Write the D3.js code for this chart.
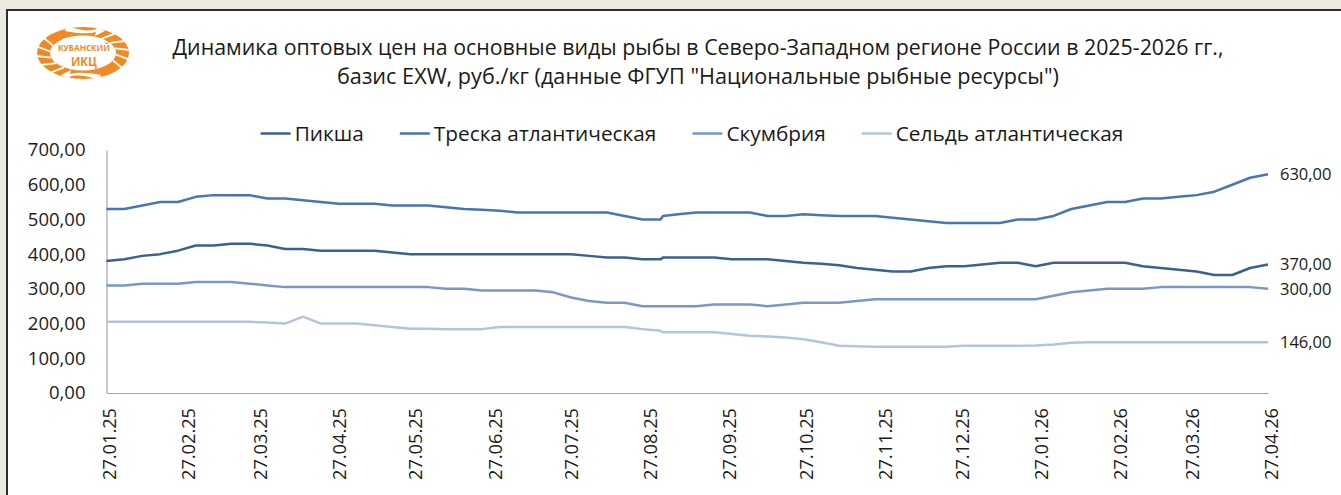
<!DOCTYPE html>
<html>
<head>
<meta charset="utf-8">
<script src="https://cdn.jsdelivr.net/npm/d3@7"></script>
<style>
  body { margin: 0; background: #ece9df; }
  text { font-family: "Open Sans", "Noto Sans", sans-serif; fill: #1a1a1a; }
</style>
</head>
<body>
<div id="chart"></div>
<script>
// Chart data
const dates = [
  "27.01.25","03.02.25","10.02.25","17.02.25","24.02.25","03.03.25","10.03.25","17.03.25","24.03.25","31.03.25",
  "07.04.25","14.04.25","21.04.25","28.04.25","05.05.25","12.05.25","19.05.25","26.05.25","02.06.25","09.06.25",
  "16.06.25","23.06.25","30.06.25","07.07.25","14.07.25","21.07.25","28.07.25","04.08.25","11.08.25","18.08.25",
  "25.08.25","01.09.25","02.09.25","08.09.25","15.09.25","22.09.25","29.09.25","06.10.25","13.10.25","20.10.25",
  "27.10.25","03.11.25","10.11.25","17.11.25","24.11.25","01.12.25","08.12.25","15.12.25","22.12.25","29.12.25",
  "05.01.26","12.01.26","19.01.26","26.01.26","02.02.26","09.02.26","16.02.26","23.02.26","02.03.26","09.03.26",
  "16.03.26","23.03.26","30.03.26","06.04.26","13.04.26","20.04.26","27.04.26"
];

const seriesNames = ["Пикша", "Треска атлантическая", "Скумбрия", "Сельдь атлантическая"];

const pikshaValues = [
  380,385,395,400,410,425,425,430,430,425,
  415,415,410,410,410,410,405,400,400,400,
  400,400,400,400,400,400,400,395,390,390,
  385,385,390,390,390,390,385,385,385,380,
  375,372,368,360,355,350,350,360,365,365,
  370,375,375,365,375,375,375,375,375,365,
  360,355,350,340,340,360,370
];
const treskaValues = [
  530,530,540,550,550,565,570,570,570,560,
  560,555,550,545,545,545,540,540,540,535,
  530,528,525,520,520,520,520,520,520,510,
  500,500,510,515,520,520,520,520,510,510,
  515,512,510,510,510,505,500,495,490,490,
  490,490,500,500,510,530,540,550,550,560,
  560,565,570,580,600,620,630
];
const skumbriyaValues = [
  310,310,315,315,315,320,320,320,315,310,
  305,305,305,305,305,305,305,305,305,300,
  300,295,295,295,295,290,275,265,260,260,
  250,250,250,250,250,255,255,255,250,255,
  260,260,260,265,270,270,270,270,270,270,
  270,270,270,270,280,290,295,300,300,300,
  305,305,305,305,305,305,300
];
const seldValues = [
  205,205,205,205,205,205,205,205,205,203,
  200,220,200,200,200,195,190,185,185,184,
  184,184,190,190,190,190,190,190,190,190,
  184,179,175,175,175,175,170,165,163,160,
  155,146,136,135,133,133,133,133,133,136,
  136,136,136,137,140,145,146,146,146,146,
  146,146,146,146,146,146,146
];

const xTickLabels = ["27.01.25","27.02.25","27.03.25","27.04.25","27.05.25","27.06.25","27.07.25","27.08.25",
  "27.09.25","27.10.25","27.11.25","27.12.25","27.01.26","27.02.26","27.03.26","27.04.26"];
const yTicks = [0, 100, 200, 300, 400, 500, 600, 700];

const titleLines = [
  "Динамика оптовых цен на основные виды рыбы в Северо-Западном регионе России в 2025-2026 гг.,",
  "базис EXW, руб./кг (данные ФГУП \"Национальные рыбные ресурсы\")"
];

// Sizes
const width = 1341;
const height = 495;
const margin = { top: 150, right: 73, bottom: 102, left: 106.5 };
const colors = ["#3a6194", "#4676b4", "#7898cc", "#b2c4e0"];
const logoColor = "#f08a24";

const parseDate = d3.timeParse("%d.%m.%y");
const fmtDate = d3.timeFormat("%d.%m.%y");
const fmtNum = d => d3.format(".2f")(d).replace(".", ",");

const series = [pikshaValues, treskaValues, skumbriyaValues, seldValues].map((vals, i) => ({
  name: seriesNames[i],
  color: colors[i],
  points: vals.map((v, j) => ({ date: parseDate(dates[j]), value: v }))
}));

const svg = d3.select("#chart")
  .append("svg")
  .attr("width", width)
  .attr("height", height);

// beige page and white chart area with dark frame
svg.append("rect")
  .attr("width", width).attr("height", height)
  .attr("fill", "#ece9df");
svg.append("rect")
  .attr("x", 7).attr("y", 10)
  .attr("width", width + 20).attr("height", height + 20)
  .attr("fill", "#fff")
  .attr("stroke", "#2e2e2e")
  .attr("stroke-width", 2);

// Scales
const x = d3.scaleTime()
  .domain([parseDate(dates[0]), parseDate(dates[dates.length - 1])])
  .range([margin.left, width - margin.right]);

const y = d3.scaleLinear()
  .domain([0, 700])
  .range([height - margin.bottom, margin.top]);

// Y axis
const yAxis = svg.append("g")
  .attr("transform", `translate(${margin.left}, 0)`)
  .call(d3.axisLeft(y).tickValues(yTicks).tickSize(0).tickPadding(21).tickFormat(fmtNum));
yAxis.select(".domain").attr("stroke", "#a6a6a6").attr("stroke-width", 1.2);
yAxis.selectAll("text")
  .style("font-family", "'Open Sans', sans-serif")
  .style("font-size", "18.5px")
  .attr("fill", "#1a1a1a");

// X axis
const xAxis = svg.append("g")
  .attr("transform", `translate(0, ${height - margin.bottom})`)
  .call(d3.axisBottom(x).tickValues(xTickLabels.map(parseDate)).tickSize(0).tickFormat(fmtDate));
xAxis.select(".domain").attr("stroke", "#a6a6a6").attr("stroke-width", 1.2);
xAxis.selectAll("text")
  .attr("transform", "rotate(-90)")
  .attr("x", -15)
  .attr("y", 2.5)
  .attr("dy", "0.35em")
  .attr("text-anchor", "end")
  .style("font-family", "'Open Sans', sans-serif")
  .style("font-size", "19px")
  .attr("fill", "#1a1a1a")
  .attr("textLength", 72)
  .attr("lengthAdjust", "spacingAndGlyphs");

// Lines
const line = d3.line()
  .x(d => x(d.date))
  .y(d => y(d.value));

svg.selectAll(".series")
  .data(series)
  .enter()
  .append("path")
  .attr("class", "series")
  .attr("fill", "none")
  .attr("stroke", d => d.color)
  .attr("stroke-width", 2.5)
  .attr("stroke-linejoin", "round")
  .attr("d", d => line(d.points));

// Labels at the last point
svg.selectAll(".endLabel")
  .data(series)
  .enter()
  .append("text")
  .attr("class", "endLabel")
  .attr("x", d => x(d.points[d.points.length - 1].date) + 12)
  .attr("y", d => y(d.points[d.points.length - 1].value))
  .attr("dy", "0.35em")
  .style("font-size", "16.5px")
  .text(d => fmtNum(d.points[d.points.length - 1].value));

// Title
svg.selectAll(".title")
  .data(titleLines)
  .enter()
  .append("text")
  .attr("class", "title")
  .attr("x", 698)
  .attr("y", (d, i) => 55 + i * 28.5)
  .attr("text-anchor", "middle")
  .style("font-size", "22px")
  .attr("textLength", (d, i) => i === 0 ? 1051 : 722)
  .attr("lengthAdjust", "spacingAndGlyphs")
  .text(d => d);

// Legend
const legend = svg.append("g").attr("class", "legend");
let lx = 0;
series.forEach(s => {
  const g = legend.append("g").attr("transform", `translate(${lx}, 0)`);
  g.append("line")
    .attr("x1", 0).attr("x2", 30)
    .attr("y1", 0).attr("y2", 0)
    .attr("stroke", s.color)
    .attr("stroke-width", 2.5);
  const t = g.append("text")
    .attr("x", 34)
    .attr("y", 0)
    .attr("dy", "0.35em")
    .style("font-size", "20.8px")
    .text(s.name);
  lx += 34 + t.node().getComputedTextLength() + 36;
});
lx -= 36;
legend.attr("transform", `translate(${692 - lx / 2}, 133.5)`);

// Logo (orange ellipse, Кубанский ИКЦ)
const logo = svg.append("g").attr("transform", "translate(83, 53)");
logo.append("ellipse").attr("rx", 46).attr("ry", 26).attr("fill", logoColor);
logo.append("ellipse").attr("rx", 33).attr("ry", 17.5).attr("fill", "#fff");
[-55, -35, -15, 5, 25, 125, 145, 165, 185, 205].forEach(a => {
  const r = a * Math.PI / 180;
  logo.append("line")
    .attr("x1", 33 * Math.cos(r)).attr("y1", 17.5 * Math.sin(r))
    .attr("x2", 47 * Math.cos(r + 0.15)).attr("y2", 27 * Math.sin(r + 0.15))
    .attr("stroke", "#fff").attr("stroke-width", 1.8);
});
logo.append("path")
  .attr("d", "M-16,-27 Q4,-20 14,-24 L10,-28 L22,-22 L12,-17 L13,-21 Q2,-18 -18,-22 Z")
  .attr("fill", "#fff");
logo.append("path")
  .attr("d", "M16,27 Q-4,20 -14,24 L-10,28 L-22,22 L-12,17 L-13,21 Q-2,18 18,22 Z")
  .attr("fill", "#fff");
logo.append("text")
  .attr("x", 1)
  .attr("y", -2.5)
  .attr("text-anchor", "middle")
  .style("font-size", "9px")
  .style("font-weight", "bold")
  .style("fill", logoColor)
  .attr("textLength", 52)
  .attr("lengthAdjust", "spacingAndGlyphs")
  .text("КУБАНСКИЙ");
logo.append("text")
  .attr("x", 1)
  .attr("y", 13)
  .attr("text-anchor", "middle")
  .style("font-size", "11.5px")
  .style("font-weight", "bold")
  .style("fill", logoColor)
  .text("ИКЦ");
</script>
</body>
</html>
